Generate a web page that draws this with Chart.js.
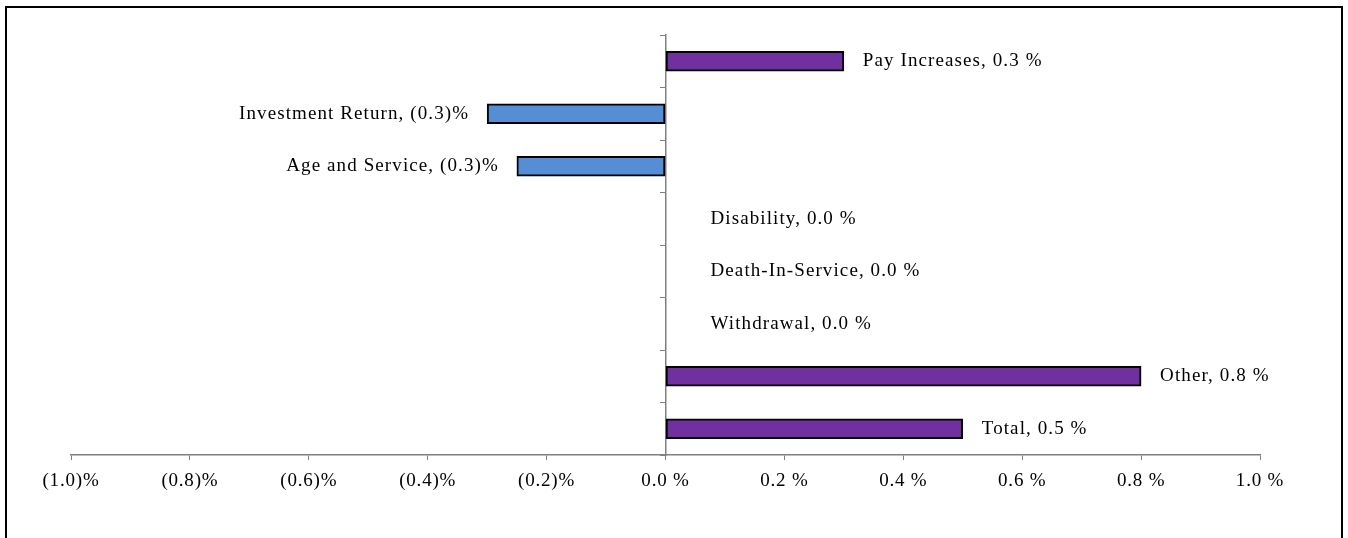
<!DOCTYPE html>
<html>
<head>
<meta charset="utf-8">
<title>Contribution rate changes</title>
<script src="https://cdn.jsdelivr.net/npm/chart.js@4/dist/chart.umd.min.js"></script>
<style>
    html, body { margin: 0; padding: 0; background: #fff; overflow: hidden; }
    #wrap { position: relative; width: 1348px; height: 538px; }
</style>
</head>
<body>
<div id="wrap"><canvas id="chart" width="1348" height="538"></canvas></div>
<script>
// ===== DATA =====
var categories = ['Pay Increases', 'Investment Return', 'Age and Service', 'Disability',
                  'Death-In-Service', 'Withdrawal', 'Other', 'Total'];
var values = [0.30, -0.30, -0.25, 0.0, 0.0, 0.0, 0.80, 0.50];
var labelValues = ['0.3 %', '(0.3)%', '(0.3)%', '0.0 %', '0.0 %', '0.0 %', '0.8 %', '0.5 %'];
var tickValues = [-1.0, -0.8, -0.6, -0.4, -0.2, 0.0, 0.2, 0.4, 0.6, 0.8, 1.0];

var FONT = '"Liberation Serif", "Times New Roman", serif';

function fmtPct(v) {
    var s = Math.abs(v).toFixed(1);
    return v < -0.0001 ? '(' + s + ')%' : s + ' %';
}

// ===== PLUGINS =====
// outer frame round the whole picture
var framePlugin = {
    id: 'frame',
    beforeDraw: function(chart) {
        var ctx = chart.ctx;
        ctx.save();
        ctx.fillStyle = '#fff';
        ctx.fillRect(0, 0, chart.width, chart.height);
        ctx.strokeStyle = '#000';
        ctx.lineWidth = 2;
        ctx.strokeRect(6, 7, 1336, 600);
        ctx.restore();
        // the original text is spaced out a little
        ctx.letterSpacing = '0.8px';
    }
};

// "Category, value" text next to each bar end
var barLabels = {
    id: 'barLabels',
    afterDatasetsDraw: function(chart) {
        var ctx = chart.ctx;
        var meta = chart.getDatasetMeta(0);
        var zero = chart.scales.x.getPixelForValue(0);
        ctx.save();
        ctx.font = '19px ' + FONT;
        ctx.letterSpacing = '1.1px';
        ctx.fillStyle = '#000';
        ctx.textBaseline = 'middle';
        meta.data.forEach(function(bar, i) {
            var v = values[i];
            var text = categories[i] + ', ' + labelValues[i];
            if (v < 0) {
                ctx.textAlign = 'right';
                ctx.fillText(text, bar.x - 18, bar.y);
            } else if (v > 0) {
                ctx.textAlign = 'left';
                ctx.fillText(text, bar.x + 19, bar.y);
            } else {
                ctx.textAlign = 'left';
                ctx.fillText(text, zero + 45, bar.y);
            }
        });
        ctx.restore();
    }
};

// ===== CHART =====
new Chart(document.getElementById('chart'), {
    type: 'bar',
    data: {
        labels: categories,
        datasets: [{
            data: values,
            backgroundColor: function(c) { return values[c.dataIndex] < 0 ? '#558ED5' : '#7030A0'; },
            borderColor: '#000',
            borderWidth: 2,
            borderSkipped: false,
            barThickness: 20
        }]
    },
    options: {
        indexAxis: 'y',
        responsive: false,
        animation: false,
        devicePixelRatio: 1,
        layout: { padding: { left: 71, right: 88, top: 35, bottom: 0 } },
        plugins: {
            legend: { display: false },
            tooltip: { enabled: false }
        },
        scales: {
            x: {
                type: 'linear',
                min: -1,
                max: 1,
                afterBuildTicks: function(scale) {
                    scale.ticks = tickValues.map(function(v) { return { value: v }; });
                },
                afterFit: function(scale) { scale.height = 83; },
                grid: { drawOnChartArea: false, drawTicks: true, tickLength: 5, color: '#808080' },
                border: { display: true, color: '#808080', width: 1.5 },
                ticks: {
                    padding: 10,
                    maxRotation: 0,
                    color: '#000',
                    font: { family: FONT, size: 19 },
                    callback: function(v) { return fmtPct(v); }
                }
            },
            y: {
                type: 'category',
                position: { x: 0 },
                offset: true,
                afterFit: function(scale) { scale.width = 0; },
                grid: { offset: true, drawOnChartArea: false, drawTicks: true, tickLength: 5, color: '#808080' },
                border: { display: true, color: '#808080', width: 1.5 },
                ticks: { display: false }
            }
        }
    },
    plugins: [framePlugin, barLabels]
});
</script>
</body>
</html>
